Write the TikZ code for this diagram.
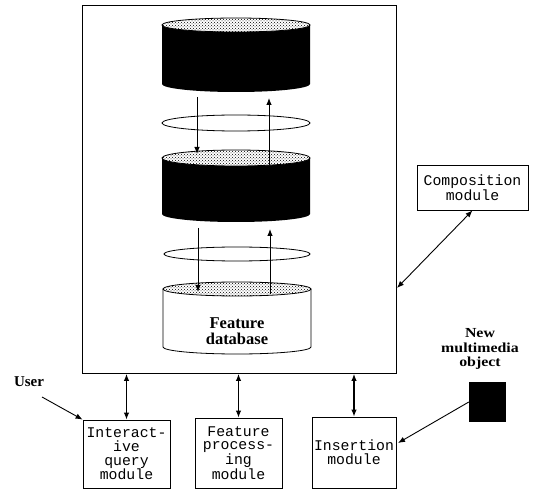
\documentclass[tikz,border=0pt]{standalone}
\usepackage{fontspec}
\setmonofont{Liberation Mono}
\newfontfamily\lblfont{Liberation Serif}
\newfontfamily\widefont{Liberation Serif}[FakeStretch=1.15]
\usetikzlibrary{arrows.meta,patterns}
\tikzset{
  modbox/.style={draw, line width=0.8pt, inner sep=0pt, align=center,
    font=\ttfamily\fontsize{14.8}{13.7}\selectfont},
  tipa/.style={Latex[length=7pt,width=5.5pt]},
  dbl/.style={{Latex[length=7pt,width=5.5pt]}-{Latex[length=7pt,width=5.5pt]}, line width=1.2pt},
  sgl/.style={-{Latex[length=7pt,width=5.5pt]}, line width=0.9pt},
  stip/.style={pattern=crosshatch dots, pattern color=black},
  outl/.style={line width=0.8pt}
}
\begin{document}
\begin{tikzpicture}[x=1pt,y=-1pt]
\useasboundingbox (0,0) rectangle (539,492);
% main system box
\node[draw, line width=0.9pt, minimum width=314pt, minimum height=368pt,
      anchor=north west, inner sep=0pt] (sys) at (82,5) {};

% cylinder 1 (black)
\fill[black] (162,25) -- (162,84) arc[start angle=180,end angle=360,x radius=74pt,y radius=8pt] -- (310,25) -- cycle;
\fill[white] (236,25) ellipse[x radius=74pt, y radius=7pt];
\fill[stip] (236,25) ellipse[x radius=74pt, y radius=7pt];
\draw[outl] (236,25) ellipse[x radius=74pt, y radius=7pt];

% ellipse 1
\draw[outl] (236,123) ellipse[x radius=74pt, y radius=8pt];

% cylinder 2 (black)
\fill[black] (162,158) -- (162,214) arc[start angle=180,end angle=360,x radius=74pt,y radius=8pt] -- (310,158) -- cycle;
\fill[white] (236,158) ellipse[x radius=74pt, y radius=8pt];
\fill[stip] (236,158) ellipse[x radius=74pt, y radius=8pt];
\draw[outl] (236,158) ellipse[x radius=74pt, y radius=8pt];

% ellipse 2
\draw[outl] (237,254) ellipse[x radius=73pt, y radius=7pt];

% cylinder 3 (feature database)
\filldraw[outl, fill=white] (163,289) -- (163,347) arc[start angle=180,end angle=360,x radius=74pt,y radius=7pt] -- (311,289);
\fill[white] (237,289) ellipse[x radius=74pt, y radius=7pt];
\fill[stip] (237,289) ellipse[x radius=74pt, y radius=7pt];
\draw[outl] (237,289) ellipse[x radius=74pt, y radius=7pt];
\node[font=\lblfont\bfseries\fontsize{16.5}{15.5}\selectfont, align=center] (fdb) at (237,331) {Feature\\database};

% arrows between layers
\coordinate (d1s) at (197,97);  \coordinate (d1e) at (197,154);
\coordinate (u1s) at (269,165); \coordinate (u1e) at (269,98);
\coordinate (d2s) at (198,228); \coordinate (d2e) at (198,292);
\coordinate (u2s) at (270,294); \coordinate (u2e) at (270,229);
\draw[sgl] (d1s) -- (d1e);
\draw[sgl] (u1s) -- (u1e);
\draw[sgl] (d2s) -- (d2e);
\draw[sgl] (u2s) -- (u2e);

% module boxes
\node[modbox, minimum width=87pt, minimum height=68pt] (iq) at (126.5,454) {Interact-\\ive\\query\\module};
\node[modbox, minimum width=87pt, minimum height=70pt] (fp) at (238.5,453) {Feature\\process-\\ing\\module};
\node[modbox, minimum width=84pt, minimum height=71pt] (ins) at (354,452.5) {Insertion\\module};
\node[modbox, minimum width=111pt, minimum height=45pt] (comp) at (472.5,187.5) {Composition\\module};

% connectors to system box
\draw[dbl] (sys.south -| iq.north) -- (iq.north);
\draw[dbl] (sys.south -| fp.north) -- (fp.north);
\draw[dbl] (sys.south -| ins.north) -- (ins.north);
\coordinate (cmpend) at (397,288);
\draw[{Latex[length=7pt,width=5.5pt]}-{Latex[length=7pt,width=5.5pt]}, line width=0.9pt] (comp.south) -- (cmpend);

% user
\node[font=\lblfont\bfseries\fontsize{15}{15}\selectfont] (user) at (29,382) {User};
\coordinate (ustart) at (42,397);
\draw[sgl] (ustart) -- (iq.north west);

% new multimedia object
\node[font=\widefont\bfseries\fontsize{13.8}{14.5}\selectfont, align=center] (newtxt) at (480,349) {New\\multimedia\\object};
\node[fill=black, minimum width=37pt, minimum height=40pt, inner sep=0pt] (obj) at (487.5,402) {};
\coordinate (insend) at (398,443);
\draw[sgl] (obj.west) -- (insend);
\end{tikzpicture}
\end{document}
